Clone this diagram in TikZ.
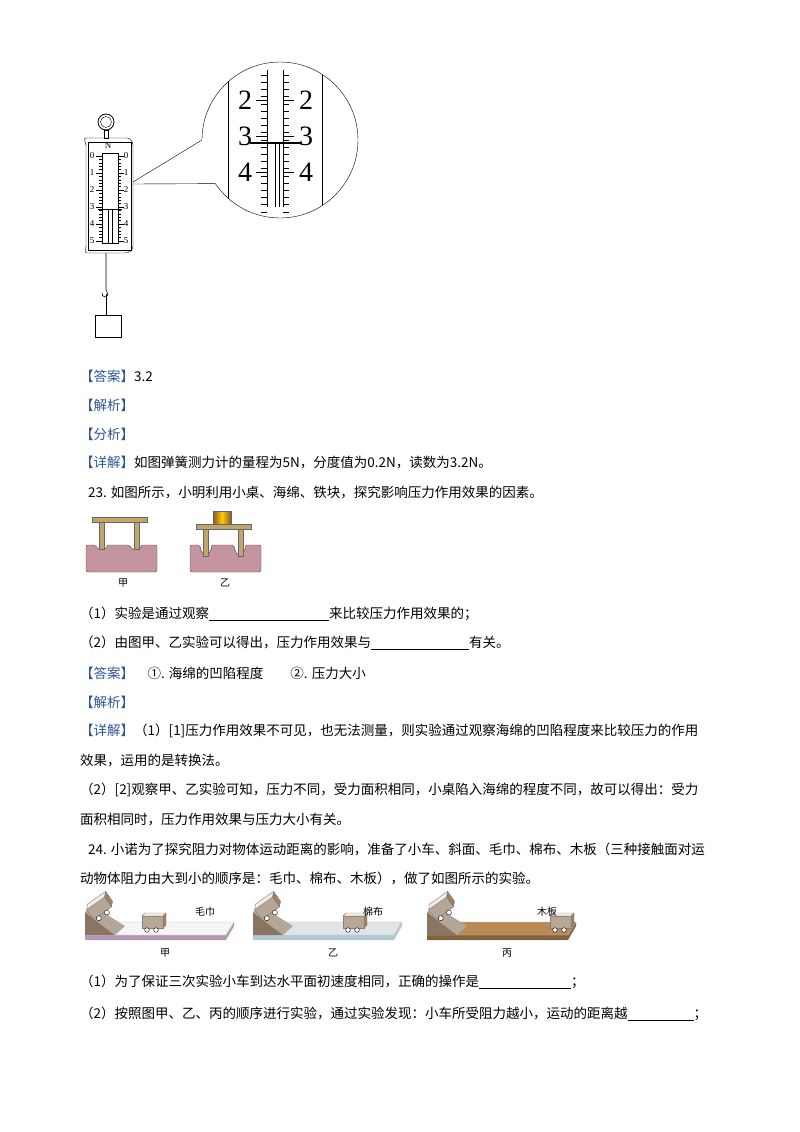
\documentclass[tikz,border=0pt]{standalone}
\usepackage{fontspec}
\setmainfont{Liberation Serif}
\newfontfamily\cjk{Noto Sans CJK SC}
\definecolor{lab}{HTML}{2F5597}
\definecolor{wood}{HTML}{B98A55}
\definecolor{sponge}{HTML}{C4959E}
\definecolor{leg}{HTML}{C2A56A}
\tikzset{txt/.style={anchor=west,inner sep=0,font=\cjk\fontsize{13.5}{14}\selectfont},
 sm/.style={font=\cjk\fontsize{10}{10}\selectfont,inner sep=0},
 num/.style={font=\fontsize{9}{9}\selectfont,inner sep=0},
 big/.style={font=\fontsize{28}{28}\selectfont,inner sep=0}}
\newcommand{\lb}[1]{\textcolor{lab}{【#1】}}
\begin{document}
\begin{tikzpicture}[x=1pt,y=-1pt]
\useasboundingbox[fill=white] (0,0) rectangle (800,1132);
% spring scale
\draw[thick] (106,122) circle (8); \draw (106,122) circle (5.5);
\draw (104,130) rectangle (108,138);
\draw (86,138) -- (127,138) to[out=0,in=90] (133,146) -- (133,246) to[out=-90,in=0] (125,253) -- (87,253) to[out=180,in=-90] (86,246) -- (86,146) to[out=90,in=180] (86,138);
\draw (88,142) rectangle (131,250);
\node[num] at (108,146) {N};
\draw (102,153) rectangle (118,243);
\foreach \i in {0,...,5}{
 \node[num] at (92,{156+\i*17}) {\i};
 \node[num] at (126,{156+\i*17}) {\i};
 \draw (96,{156+\i*17}) -- (102,{156+\i*17}); \draw (118,{156+\i*17}) -- (124,{156+\i*17});}
\foreach \j in {0,...,25}{\draw (99,{156+\j*3.4}) -- (102,{156+\j*3.4}); \draw (118,{156+\j*3.4}) -- (121,{156+\j*3.4});}
\draw[thick] (98,209) -- (122,209);
\draw (108,209) -- (108,243) (112,209) -- (112,243);
\draw[semithick] (106,253) -- (106,290) to[out=-90,in=90] (108,294) arc[start angle=0,end angle=200,radius=3];
\draw[semithick] (106,294) -- (106,315);
\draw (95,315) rectangle (121,337);
% magnifier
\draw (133,182) -- (202,140) arc[start angle=180,end angle=506,radius=78] coordinate (mb);
\draw (133,184) -- (mb);
\begin{scope}
\clip (280,140) circle (78);
\draw (228,40) -- (228,240) (322,40) -- (322,240);
\end{scope}
\draw (267,70) -- (267,207) (283,70) -- (283,207);
\draw (275,143) -- (275,207) (279,143) -- (279,207);
\foreach \j in {0,...,19}{\draw (261,{75+\j*7.2}) -- (267,{75+\j*7.2}); \draw (283,{75+\j*7.2}) -- (289,{75+\j*7.2});}
\foreach \n/\y in {2/100,3/136,4/172}{\draw (256,\y) -- (267,\y) (283,\y) -- (294,\y);
 \node[big] at (245,\y) {\n}; \node[big] at (306,\y) {\n};}
\draw[line width=1.3pt] (250,143) -- (302,143);
% text
\node[txt] at (80,376) {\lb{答案}3.2};
\node[txt] at (80,405) {\lb{解析}};
\node[txt] at (80,434) {\lb{分析}};
\node[txt] at (80,462) {\lb{详解}如图弹簧测力计的量程为5N，分度值为0.2N，读数为3.2N。};
\node[txt] at (88,492) {23. 如图所示，小明利用小桌、海绵、铁块，探究影响压力作用效果的因素。};
% tables
\foreach \ox/\dy in {0/0,104/7}{
 \fill[sponge,draw=black!70,rounded corners=2pt] ({\ox+86},545) -- ({\ox+96},545) {[sharp corners] .. controls ({\ox+98},{551+\dy}) and ({\ox+106},{551+\dy}) .. ({\ox+108},545)} -- ({\ox+130},545) {[sharp corners] .. controls ({\ox+132},{551+\dy}) and ({\ox+140},{551+\dy}) .. ({\ox+142},545)} -- ({\ox+157},545) -- ({\ox+157},572) -- ({\ox+86},572) -- cycle;
 \fill[leg,draw=black!60] ({\ox+99},{522+\dy}) rectangle ({\ox+104},{549+\dy});
 \fill[leg,draw=black!60] ({\ox+134},{522+\dy}) rectangle ({\ox+139},{549+\dy});
 \fill[leg,draw=black!60] ({\ox+92},{517+\dy}) rectangle ({\ox+147},{522+\dy});}
\shade[left color=brown!70!black,right color=brown!70!black,middle color=yellow!60!orange,draw=black!60] (213,511) rectangle (231,524);
\node[sm] at (123,583) {甲}; \node[sm] at (225,583) {乙};
\node[txt] at (80,614) {（1）实验是通过观察\underline{\hspace{120pt}}来比较压力作用效果的；};
\node[txt] at (80,643) {（2）由图甲、乙实验可以得出，压力作用效果与\underline{\hspace{98pt}}有关。};
\node[txt] at (80,673) {\lb{答案}\quad ①. 海绵的凹陷程度\qquad ②. 压力大小};
\node[txt] at (80,702) {\lb{解析}};
\node[txt] at (80,731) {\lb{详解}（1）[1]压力作用效果不可见，也无法测量，则实验通过观察海绵的凹陷程度来比较压力的作用};
\node[txt] at (80,761) {效果，运用的是转换法。};
\node[txt] at (80,790) {（2）[2]观察甲、乙实验可知，压力不同，受力面积相同，小桌陷入海绵的程度不同，故可以得出：受力};
\node[txt] at (80,820) {面积相同时，压力作用效果与压力大小有关。};
\node[txt] at (88,849) {24. 小诺为了探究阻力对物体运动距离的影响，准备了小车、斜面、毛巾、棉布、木板（三种接触面对运};
\node[txt] at (80,878) {动物体阻力由大到小的顺序是：毛巾、棉布、木板），做了如图所示的实验。};
% ramps
\foreach \ox/\bc/\ec/\car/\nm/\lab in {85/white!92!gray/violet!35!gray!60/57/毛巾/甲, 253/cyan!15!gray!25/cyan!30!gray!55/90/棉布/乙, 427/wood/wood!70!black/123/木板/丙}{
 \fill[\ec] (\ox,935) -- ({\ox+141},935) -- ({\ox+149},922) -- ({\ox+149},926) -- ({\ox+141},940) -- (\ox,940) -- cycle;
 \fill[\bc,draw=black!25] (\ox,935) -- ({\ox+141},935) -- ({\ox+149},922) -- ({\ox+22},922) -- cycle;
 \fill[brown!45!black!70] (\ox,935) -- (\ox,912) -- ({\ox+30},935) -- cycle;
 \fill[brown!30!gray!70] (\ox,912) -- ({\ox+8},906) -- ({\ox+40},926) -- ({\ox+30},935) -- cycle;
 \begin{scope}[shift={({\ox+19},917)},rotate=35]
  \fill[brown!35!gray!70,draw=black!50] (-10,-16) rectangle (12,-4);
  \fill[white!85!brown,draw=black!50] (-10,-16) -- (-6,-20) -- (16,-20) -- (12,-16) -- cycle;
  \fill[brown!50!gray,draw=black!50] (12,-16) -- (16,-20) -- (16,-8) -- (12,-4) -- cycle;
  \draw[fill=white] (-5,-2) circle (2.5) (5,-2) circle (2.5);
 \end{scope}
 \begin{scope}[shift={({\ox+\car},916)}]
  \fill[brown!35!gray!70,draw=black!50] (0,0) rectangle (21,12);
  \fill[white!85!brown,draw=black!50] (0,0) -- (3,-3) -- (24,-3) -- (21,0) -- cycle;
  \fill[brown!50!gray,draw=black!50] (21,0) -- (24,-3) -- (24,9) -- (21,12) -- cycle;
  \draw[fill=white] (5,14) circle (2.3) (14,14) circle (2.3);
 \end{scope}
 \node[sm] at ({\ox+120},912) {\nm};
 \node[sm] at ({\ox+80},953) {\lab};}
\node[txt] at (80,982) {（1）为了保证三次实验小车到达水平面初速度相同，正确的操作是\underline{\hspace{92pt}}；};
\node[txt] at (80,1014) {（2）按照图甲、乙、丙的顺序进行实验，通过实验发现：小车所受阻力越小，运动的距离越\underline{\hspace{66pt}}；};
\end{tikzpicture}
\end{document}
